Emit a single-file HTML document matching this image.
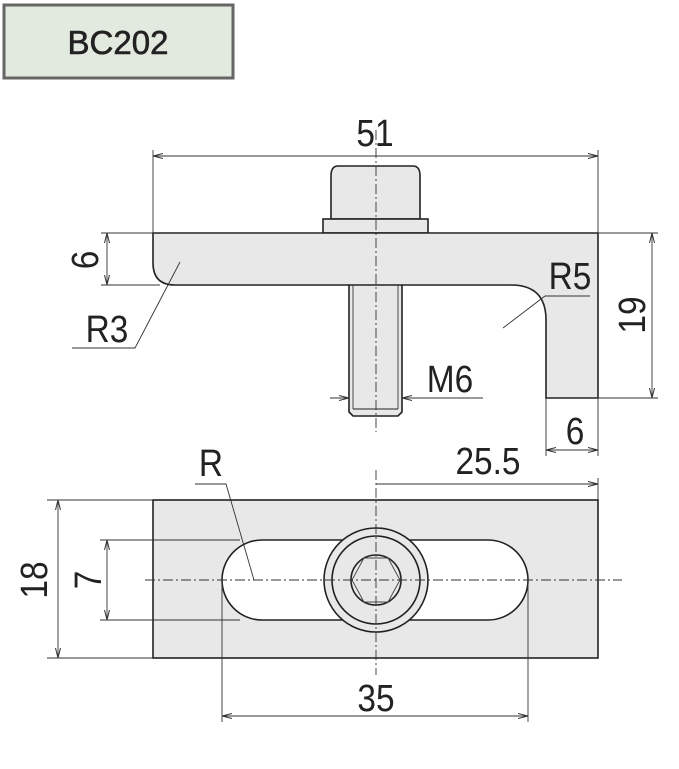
<!DOCTYPE html>
<html><head><meta charset="utf-8"><style>
html,body{margin:0;padding:0;background:#fff}
svg{display:block}
text{font-family:"Liberation Sans",sans-serif;fill:#222}
</style></head><body>
<svg width="679" height="769" viewBox="0 0 679 769" xmlns="http://www.w3.org/2000/svg">
<defs>
<marker id="a" viewBox="0 0 10 6" refX="10" refY="3" markerWidth="10" markerHeight="6" orient="auto-start-reverse" markerUnits="userSpaceOnUse"><path d="M0,0.5 L10,3 L0,5.5" fill="none" stroke="#333" stroke-width="1"/></marker>
</defs>
<rect x="4" y="5" width="229" height="73" fill="#e2e9de" stroke="#666" stroke-width="3"/>
<text x="118" y="54" font-size="33" text-anchor="middle" stroke="#222" stroke-width="0.6">BC202</text>

<g stroke="#222" stroke-width="1.6" fill="#e8e8e8">
<path d="M338,166 H413 Q420,166 420,176 V219 H331 V176 Q331,166 338,166 Z"/>
<rect x="323" y="219" width="105" height="14"/>
<path d="M349,285 V412 L353,416 H398 L402,412 V285"/>
<path d="M153,233 H598 V398 H546 V320 Q546,285 511,285 H175 Q153,285 153,263 Z"/>
</g>
<line x1="353" y1="409" x2="398" y2="409" stroke="#222" stroke-width="1"/>
<line x1="353" y1="285" x2="353" y2="409" stroke="#222" stroke-width="0.8"/>
<line x1="398" y1="285" x2="398" y2="409" stroke="#222" stroke-width="0.8"/>

<g stroke="#333" stroke-width="0.9" fill="none">
<line x1="376" y1="130" x2="376" y2="432" stroke-dasharray="10,3,2,3"/>
<line x1="153" y1="150" x2="153" y2="233"/><line x1="598" y1="150" x2="598" y2="233"/>
<line x1="153" y1="156" x2="598" y2="156" marker-start="url(#a)" marker-end="url(#a)"/>
<line x1="101" y1="233" x2="153" y2="233"/><line x1="101" y1="285" x2="160" y2="285"/>
<line x1="107" y1="233" x2="107" y2="285" marker-start="url(#a)" marker-end="url(#a)"/>
<polyline points="72,348 135,348 180,262"/>
<polyline points="503,328 545,296 590,296"/>
<line x1="598" y1="233" x2="658" y2="233"/><line x1="598" y1="398" x2="658" y2="398"/>
<line x1="652" y1="233" x2="652" y2="398" marker-start="url(#a)" marker-end="url(#a)"/>
<line x1="330" y1="398" x2="349" y2="398" marker-end="url(#a)"/>
<line x1="402" y1="398" x2="483" y2="398" marker-start="url(#a)"/>
<line x1="546" y1="398" x2="546" y2="456"/><line x1="598" y1="398" x2="598" y2="456"/>
<line x1="546" y1="450" x2="598" y2="450" marker-start="url(#a)" marker-end="url(#a)"/>
</g>
<g font-size="38" text-anchor="middle">
<text transform="translate(375,146) scale(0.88,1)">51</text>
<text transform="translate(98,260) rotate(-90) scale(0.88,1)">6</text>
<text transform="translate(107,342) scale(0.88,1)">R3</text>
<text transform="translate(570,289) scale(0.88,1)">R5</text>
<text transform="translate(645,315) rotate(-90) scale(0.88,1)">19</text>
<text transform="translate(450,392) scale(0.88,1)">M6</text>
<text transform="translate(575,444) scale(0.88,1)">6</text>
</g>

<rect x="153" y="500" width="445" height="158" fill="#e8e8e8" stroke="#222" stroke-width="1.6"/>
<rect x="222" y="540" width="306" height="80" rx="40" ry="40" fill="#fff" stroke="#222" stroke-width="1.6"/>
<circle cx="376" cy="580" r="52" fill="#e8e8e8" stroke="#222" stroke-width="1.6"/>
<circle cx="376" cy="580" r="44" fill="#e8e8e8" stroke="#222" stroke-width="1.6"/>
<circle cx="376" cy="580" r="25" fill="#e8e8e8" stroke="#222" stroke-width="1.6"/>
<polygon points="364,558 388,558 400,580 388,602 364,602 352,580" fill="none" stroke="#444" stroke-width="0.9"/>
<g stroke="#333" stroke-width="0.9" fill="none">
<line x1="376" y1="470" x2="376" y2="675" stroke-dasharray="10,3,2,3"/>
<line x1="145" y1="580" x2="622" y2="580" stroke-dasharray="10,3,2,3"/>
<line x1="598" y1="478" x2="598" y2="500"/>
<line x1="376" y1="484" x2="598" y2="484" marker-end="url(#a)"/>
<polyline points="195,484 226,484 254,580"/>
<line x1="47" y1="500" x2="153" y2="500"/><line x1="47" y1="658" x2="153" y2="658"/>
<line x1="58" y1="500" x2="58" y2="658" marker-start="url(#a)" marker-end="url(#a)"/>
<line x1="100" y1="540" x2="240" y2="540"/><line x1="100" y1="620" x2="240" y2="620"/>
<line x1="107" y1="540" x2="107" y2="620" marker-start="url(#a)" marker-end="url(#a)"/>
<line x1="222" y1="580" x2="222" y2="722"/><line x1="528" y1="580" x2="528" y2="722"/>
<line x1="222" y1="716" x2="528" y2="716" marker-start="url(#a)" marker-end="url(#a)"/>
</g>
<g font-size="38" text-anchor="middle">
<text transform="translate(488,474) scale(0.88,1)">25.5</text>
<text transform="translate(211,476) scale(0.88,1)">R</text>
<text transform="translate(47,580) rotate(-90) scale(0.88,1)">18</text>
<text transform="translate(101,580) rotate(-90) scale(0.88,1)">7</text>
<text transform="translate(376,711) scale(0.88,1)">35</text>
</g>
</svg>
</body></html>
